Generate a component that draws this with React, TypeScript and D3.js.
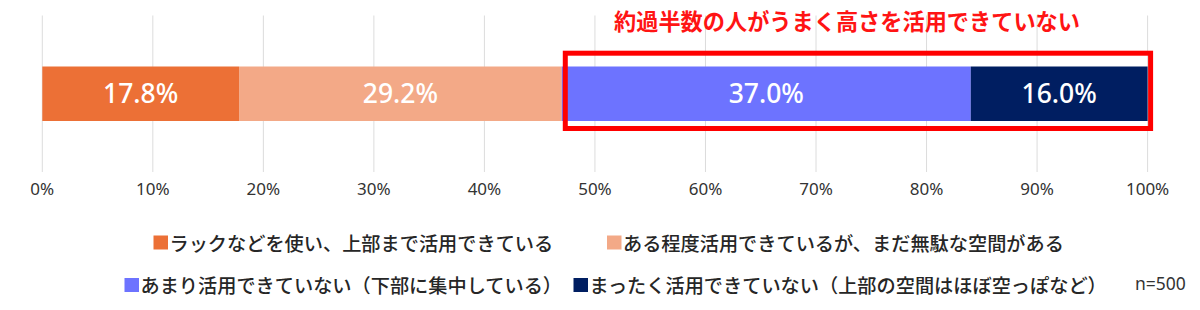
import React from "react";
import * as d3 from "d3";

const categories = [
  "ラックなどを使い、上部まで活用できている",
  "ある程度活用できているが、まだ無駄な空間がある",
  "あまり活用できていない（下部に集中している）",
  "まったく活用できていない（上部の空間はほぼ空っぽなど）",
];
const values = [17.8, 29.2, 37.0, 16.0];
const colors = ["#EC7036", "#F3A987", "#6D73FF", "#001E61"];
const tickValues = [0, 10, 20, 30, 40, 50, 60, 70, 80, 90, 100];
const title = "約過半数の人がうまく高さを活用できていない";
const note = "n=500";

const W = 1200;
const H = 310;

// legend layout (positions of each entry)
const legendPos = [
  { x: 153.5, y: 242.5 },
  { x: 607, y: 242.5 },
  { x: 124.5, y: 285 },
  { x: 573.5, y: 285 },
];

export default function App() {
  const x = d3.scaleLinear().domain([0, 100]).range([42.3, 1147.6]);
  const ends = d3.cumsum(values);
  const starts = ends.map((e, i) => e - values[i]);
  const barTop = 66.5;
  const barH = 54.5;
  const gridTop = 15.5;
  const gridBottom = 172;
  const highlightStart = starts[2];
  const highlightEnd = ends[3];
  const jp = "'Noto Sans CJK JP', 'Noto Sans', sans-serif";

  return (
    <svg
      width={W}
      height={H}
      style={{ position: "absolute", left: 0, top: 0, background: "#fff" }}
    >
      {tickValues.map((t) => (
        <line
          key={"g" + t}
          x1={x(t)}
          x2={x(t)}
          y1={gridTop}
          y2={gridBottom}
          stroke="#dcdcdc"
          strokeWidth={1}
        />
      ))}
      {tickValues.map((t) => (
        <text
          key={"t" + t}
          x={x(t)}
          y={195}
          textAnchor="middle"
          fontFamily="'Noto Sans', sans-serif"
          fontSize={17}
          fill="#333"
        >
          {t + "%"}
        </text>
      ))}
      {values.map((v, i) => (
        <rect
          key={"b" + i}
          x={x(starts[i])}
          y={barTop}
          width={x(ends[i]) - x(starts[i])}
          height={barH}
          fill={colors[i]}
        />
      ))}
      {values.map((v, i) => (
        <text
          key={"l" + i}
          x={(x(starts[i]) + x(ends[i])) / 2}
          y={barTop + barH / 2 + 9.5}
          textAnchor="middle"
          fontFamily="'Noto Sans', sans-serif"
          fontWeight={500}
          fontSize={26.5}
          fill="#fff"
        >
          {v.toFixed(1) + "%"}
        </text>
      ))}
      <rect
        x={x(highlightStart) + 3.5}
        y={53.2}
        width={x(highlightEnd) + 3 - (x(highlightStart) + 3.5)}
        height={75.3}
        fill="none"
        stroke="#FF0000"
        strokeWidth={5}
      />
      <text
        x={847}
        y={20}
        textAnchor="middle"
        dominantBaseline="central"
        fontFamily={jp}
        fontWeight={700}
        fontSize={22.2}
        fill="#FF1414"
      >
        {title}
      </text>
      {categories.map((c, i) => (
        <g key={"lg" + i} transform={`translate(${legendPos[i].x},${legendPos[i].y})`}>
          <rect x={0} y={-7} width={14.5} height={14} fill={colors[i]} />
          <text
            x={16}
            y={0}
            dominantBaseline="central"
            fontFamily={jp}
            fontWeight={500}
            fontSize={19.2}
            fill="#262626"
          >
            {c}
          </text>
        </g>
      ))}
      <text
        x={1135}
        y={282.5}
        dominantBaseline="central"
        fontFamily="'Noto Sans', sans-serif"
        fontSize={17.5}
        fill="#333"
      >
        {note}
      </text>
    </svg>
  );
}
